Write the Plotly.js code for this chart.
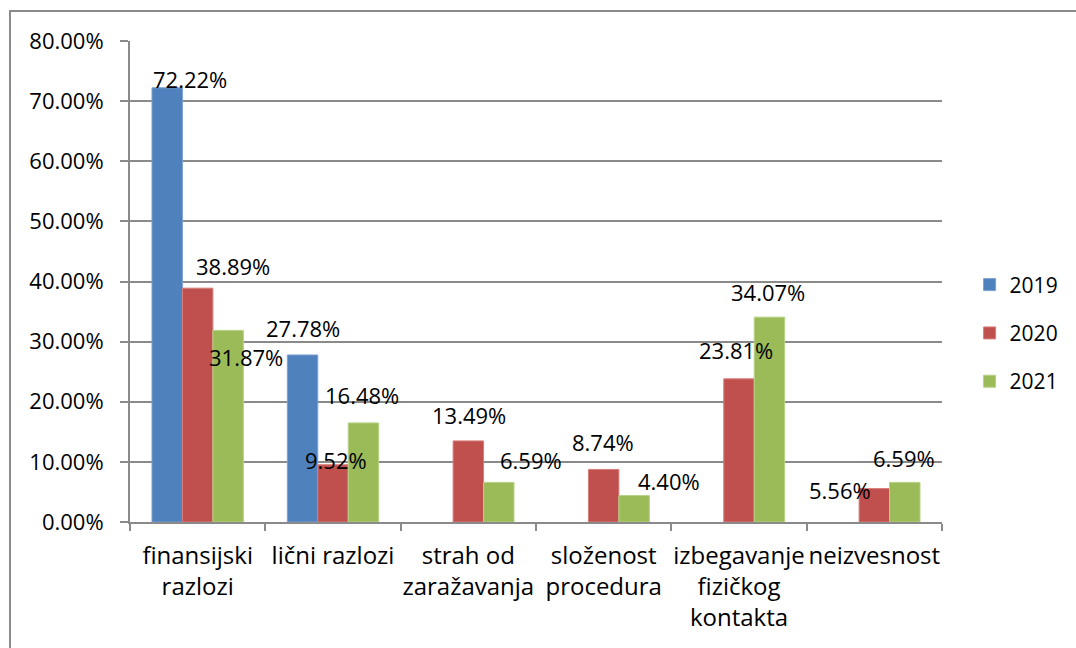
<!DOCTYPE html>
<html>
<head>
<meta charset="utf-8">
<script src="https://cdn.plot.ly/plotly-3.0.1.min.js"></script>
<style>
  body { margin: 0; background: #fff; }
  #frame { position: absolute; left: 9px; top: 10px; width: 1200px; height: 800px; border: 2px solid #8a8a8a; }
  #chart { position: absolute; left: 0; top: 0; width: 1076px; height: 648px; }
</style>
</head>
<body>
<div id="frame"></div>
<div id="chart"></div>
<script>
const categories = ["finansijski<br>razlozi", "lični razlozi", "strah od<br>zaražavanja", "složenost<br>procedura", "izbegavanje<br>fizičkog<br>kontakta", "neizvesnost"];
const seriesNames = ["2019", "2020", "2021"];
const values2019 = [72.22, 27.78, null, null, null, null];
const values2020 = [38.89, 9.52, 13.49, 8.74, 23.81, 5.56];
const values2021 = [31.87, 16.48, 6.59, 4.40, 34.07, 6.59];
const yTicks = [0, 10, 20, 30, 40, 50, 60, 70, 80];

// label pixel offsets relative to the category centre / data value (as placed in the original)
const labelDx = [[-8, -30, null, null, null, null], [35, 3, 1, -1, -3, -34], [48, 29, 63, 65, 29, 30]];
const labelDy = [[9, 27, null, null, null, null], [22, 5, 26, 27, 29, -1], [-27, 28, 22, 15, 25, 24]];

const colors = ["#4F81BD", "#C0504D", "#9BBB59"];
const lineColors = ["#7da1d2", "#d77d7b", "#b7d185"];
const FONT = "Open Sans, Noto Sans, sans-serif";
const allValues = [values2019, values2020, values2021];

const traces = allValues.map((vals, i) => ({
  type: "bar",
  name: seriesNames[i],
  x: categories,
  y: vals,
  marker: { color: colors[i], line: { color: lineColors[i], width: 1 } },
  legendgroup: "g" + i,
  hoverinfo: "skip"
}));

const annotations = [];
allValues.forEach((vals, i) => {
  vals.forEach((v, j) => {
    if (v === null) return;
    annotations.push({
      x: categories[j], y: v, xref: "x", yref: "y",
      text: v.toFixed(2) + "%",
      showarrow: false,
      xanchor: "center", yanchor: "middle",
      xshift: labelDx[i][j], yshift: labelDy[i][j],
      font: { family: FONT, size: 22, color: "#000" }
    });
  });
});

const layout = {
  width: 1076, height: 648,
  margin: { l: 130, r: 134, t: 41, b: 126, autoexpand: false },
  paper_bgcolor: "rgba(0,0,0,0)",
  plot_bgcolor: "rgba(0,0,0,0)",
  barmode: "group",
  bargap: 0.325,
  bargroupgap: 0,
  font: { family: FONT, size: 21, color: "#000" },
  showlegend: true,
  legend: {
    x: 1.034, xanchor: "left", y: 0.393, yanchor: "middle",
    font: { family: FONT, size: 21, color: "#000" },
    traceorder: "grouped", tracegroupgap: 18,
    bgcolor: "rgba(0,0,0,0)"
  },
  xaxis: {
    type: "category",
    tickson: "boundaries",
    ticks: "outside", ticklen: 7, tickcolor: "#8a8a8a", tickwidth: 2,
    ticklabelstandoff: 11,
    showline: true, linecolor: "#8a8a8a", linewidth: 2,
    showgrid: false,
    tickfont: { family: FONT, size: 24, color: "#000" },
    tickangle: 0,
    automargin: false,
    fixedrange: true
  },
  yaxis: {
    range: [0, 80],
    tickvals: yTicks,
    ticktext: yTicks.map(t => t.toFixed(2) + "%"),
    ticks: "outside", ticklen: 8, tickcolor: "#8a8a8a", tickwidth: 2,
    ticklabelstandoff: 12,
    showline: true, linecolor: "#8a8a8a", linewidth: 2,
    showgrid: true, gridcolor: "#8a8a8a", gridwidth: 2,
    zeroline: false,
    tickfont: { family: FONT, size: 22, color: "#000" },
    automargin: false,
    fixedrange: true
  },
  annotations: annotations
};

Plotly.newPlot("chart", traces, layout, { displayModeBar: false, staticPlot: true });
</script>
</body>
</html>
